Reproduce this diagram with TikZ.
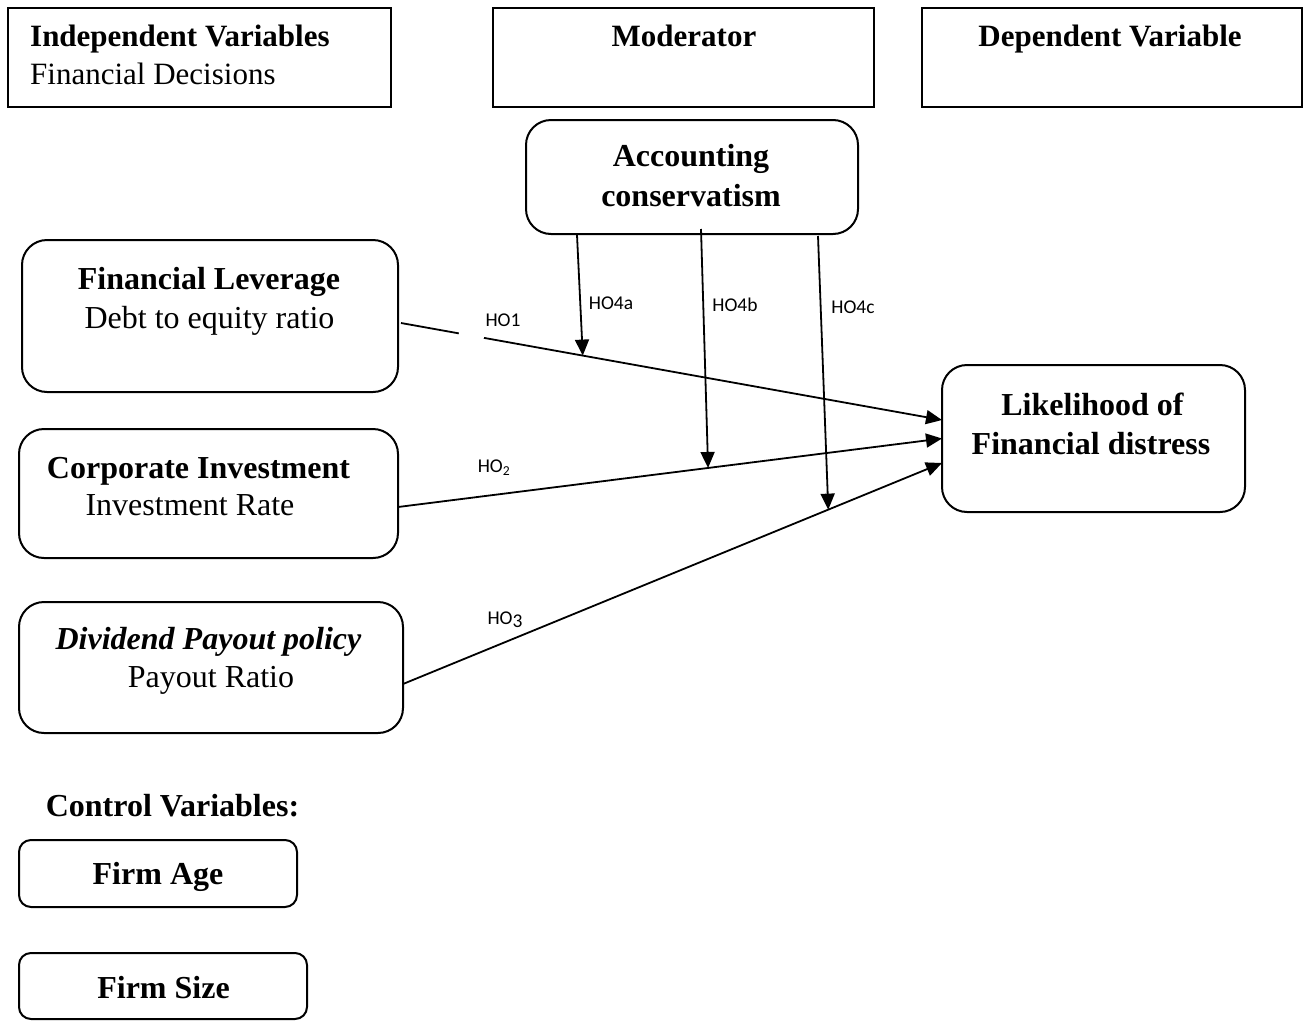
\documentclass[tikz,border=0pt]{standalone}
\usepackage{fontspec}
\setmainfont{Liberation Serif}
\newfontfamily\calib{Carlito}
\usetikzlibrary{arrows.meta,calc}
\begin{document}
\begin{tikzpicture}[x=1pt,y=-1pt,
  hdr/.style={draw,line width=1.5pt,inner sep=0pt,outer sep=0pt},
  rbox/.style={draw,line width=2pt,rounded corners=25pt,inner sep=0pt,outer sep=0pt},
  sbox/.style={draw,line width=2pt,rounded corners=12pt,inner sep=0pt,outer sep=0pt},
  txt/.style={anchor=base,inner sep=0pt,font=\fontsize{32}{39}\selectfont},
  btxt/.style={anchor=base,inner sep=0pt,font=\fontsize{32}{39}\selectfont\bfseries},
  htxt/.style={anchor=base west,inner sep=0pt,font=\fontsize{31}{37}\selectfont},
  hlab/.style={anchor=base,inner sep=0pt,font=\calib\fontsize{19.5}{22}\selectfont},
  arr/.style={line width=1.8pt,-{Triangle[length=16pt,width=14pt]}}]
\useasboundingbox (0,0) rectangle (1303,1020);

% header boxes
\node[hdr,minimum width=383pt,minimum height=99pt] (H1) at (199.5,57.5) {};
\node[hdr,minimum width=381pt,minimum height=99pt] (H2) at (683.5,57.5) {};
\node[hdr,minimum width=380pt,minimum height=99pt] (H3) at (1112,57.5) {};
\node[htxt,font=\fontsize{31}{37}\selectfont\bfseries] (t-h1a) at (30,46) {Independent Variables};
\node[htxt] (t-h1b) at (30,84) {Financial Decisions};
\node[htxt,anchor=base,font=\fontsize{31}{37}\selectfont\bfseries] (t-h2) at (684,46) {Moderator};
\node[htxt,anchor=base,font=\fontsize{31}{37}\selectfont\bfseries] (t-h3) at (1110,46) {Dependent Variable};

% main boxes
\node[rbox,minimum width=332pt,minimum height=114pt] (AC) at (692,177) {};
\node[btxt] (t-ac1) at (691,166.5) {Accounting};
\node[btxt] (t-ac2) at (691,206.5) {conservatism};

\node[rbox,minimum width=376pt,minimum height=152pt] (FL) at (210,316) {};
\node[btxt] (t-fl1) at (209,289.5) {Financial Leverage};
\node[txt] (t-fl2) at (209.5,328.5) {Debt to equity ratio};

\node[rbox,minimum width=379pt,minimum height=129pt] (CI) at (208.5,493.5) {};
\node[btxt] (t-ci1) at (198.5,478.5) {Corporate Investment};
\node[txt] (t-ci2) at (190,515.5) {Investment Rate};

\node[rbox,minimum width=384pt,minimum height=131pt] (DP) at (211,667.5) {};
\node[btxt,font=\fontsize{32}{39}\selectfont\bfseries\itshape] (t-dp1) at (208.5,649.5) {Dividend Payout policy};
\node[txt] (t-dp2) at (211,687.5) {Payout Ratio};

\node[rbox,minimum width=303pt,minimum height=147pt] (LFD) at (1093.5,438.5) {};
\node[btxt] (t-lfd1) at (1092.5,415.5) {Likelihood of};
\node[btxt] (t-lfd2) at (1091,454.5) {Financial distress};

% control variables
\node[btxt] (t-cv) at (172.5,816.5) {Control Variables:};
\node[sbox,minimum width=278pt,minimum height=67pt] (FA) at (158,873.5) {};
\node[btxt] (t-fa) at (158,884.5) {Firm Age};
\node[sbox,minimum width=288pt,minimum height=66pt] (FS) at (163,986) {};
\node[btxt] (t-fs) at (163.5,998.5) {Firm Size};

% connector end points
\coordinate (h1a) at ([shift={(3,7)}]FL.east);
\coordinate (h1b) at ([shift={(0,-18.5)}]LFD.west);
\coordinate (h2a) at ([shift={(0,13.5)}]CI.east);
\coordinate (h2b) at (LFD.west);
\coordinate (h3a) at ([shift={(0,16.5)}]DP.east);
\coordinate (h3b) at ([shift={(0,24.5)}]LFD.west);

% main arrows
\draw[arr] (h1a) -- (h1b);
\draw[white,line width=6pt] ($(h1a)!0.107!(h1b)$) -- ($(h1a)!0.153!(h1b)$);
\draw[arr] (h2a) -- (h2b);
\draw[arr] (h3a) -- (h3b);

% moderator arrows
\coordinate (m1) at ($(h1a)!0.336!(h1b)$);
\coordinate (m2) at ($(h2a)!0.570!(h2b)$);
\coordinate (m3) at ($(h3a)!0.789!(h3b)$);
\draw[arr] ([shift={(-115,1)}]AC.south) -- (m1);
\draw[arr] ([shift={(9,-5)}]AC.south) -- (m2);
\draw[arr] ([shift={(126,2)}]AC.south) -- (m3);

% labels
\node[hlab] (l1) at (503,326) {HO1};
\node[hlab] (l2) at (494,472) {HO\textsubscript{2}};
\node[hlab] (l3) at (505,624) {HO\raisebox{-3pt}{3}};
\node[hlab] (l4a) at (611,309) {HO4a};
\node[hlab] (l4b) at (735,311) {HO4b};
\node[hlab] (l4c) at (853,313) {HO4c};
\end{tikzpicture}
\end{document}
